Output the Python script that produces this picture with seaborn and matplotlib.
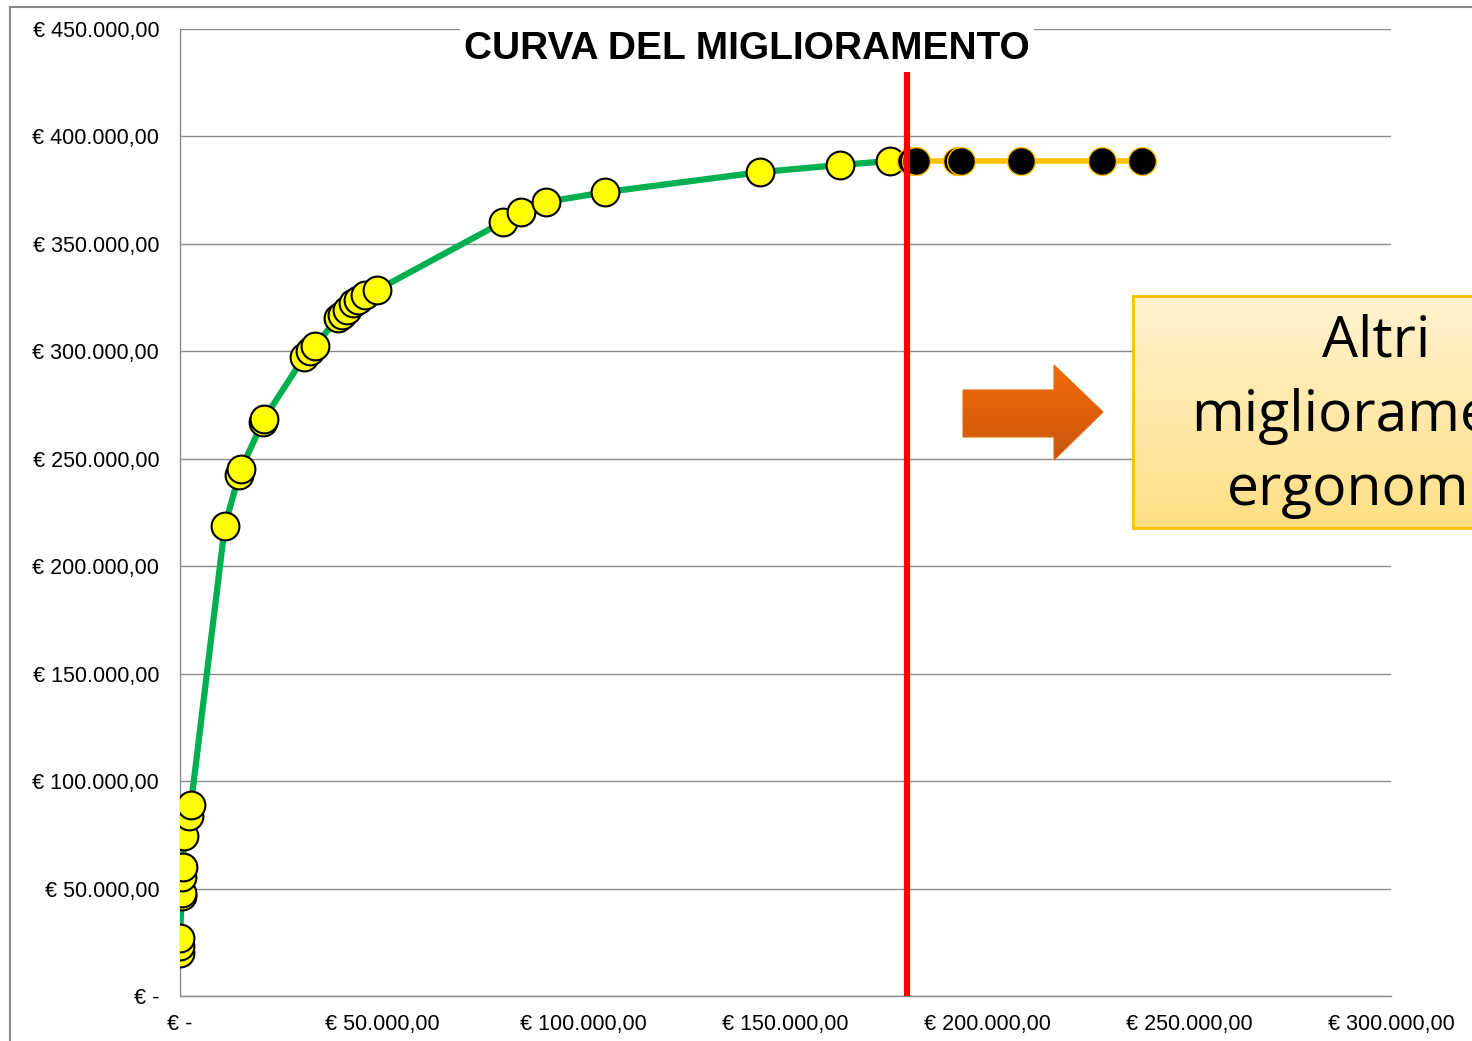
import numpy as np
import matplotlib.pyplot as plt
import matplotlib.patches as mpatches
from matplotlib.colors import LinearSegmentedColormap
from matplotlib.ticker import FuncFormatter
import pandas as pd
import seaborn as sns

# cumulative cost (x) vs cumulative benefit (y), yellow = done, black = remaining
done_x = [0, 0, 0, 400, 500, 600, 700, 1000, 2200, 2700,
          11100, 14600, 15100, 20500, 20800, 30700, 32200, 33400,
          39100, 40100, 41300, 42800, 44100, 45800, 48800,
          80000, 84400, 90600, 105400, 143800, 163400, 176000]
done_y = [20000, 23300, 27000, 46500, 48000, 55400, 60000, 74500, 83800, 88900,
          218700, 242400, 245200, 267100, 268500, 297300, 300100, 302500,
          315500, 316900, 319200, 322500, 323900, 326200, 328500,
          360200, 364800, 369500, 374100, 383400, 386700, 388600]
rest_x = [181200, 182400, 192600, 193600, 208400, 228500, 238400]
rest_y = [388600, 388600, 388600, 388600, 388600, 388600, 388600]
cut_x = 180000

sns.set_style("white")
plt.rcParams["font.family"] = ["Liberation Sans", "DejaVu Sans"]
plt.rcParams["text.color"] = "black"
plt.rcParams["xtick.color"] = "black"
plt.rcParams["ytick.color"] = "black"

fig = plt.figure(figsize=(14.72, 10.41), dpi=100)
ax = fig.add_axes([180/1472, 45/1041, 1211/1472, 967/1041])

done = pd.DataFrame({"x": done_x, "y": done_y})
rest = pd.DataFrame({"x": rest_x, "y": rest_y})

sns.lineplot(data=rest, x="x", y="y", sort=False, estimator=None, color="#ffc000", lw=4, ax=ax, zorder=2)
sns.lineplot(data=done, x="x", y="y", sort=False, estimator=None, color="#00b050", lw=4.5, ax=ax, zorder=3)
sns.scatterplot(data=done, x="x", y="y", s=400, color="#ffff00", edgecolor="black", linewidth=1.5, ax=ax, zorder=4)
sns.scatterplot(data=rest, x="x", y="y", s=400, color="black", edgecolor="#ffc000", linewidth=1, ax=ax, zorder=5)
ax.plot([cut_x, cut_x], [0, 430000], color="#ff0000", lw=4.5, zorder=6, solid_capstyle="butt")

def euro(v, pos):
    if v == 0:
        return "€ -"
    return "€ " + f"{v:,.2f}".replace(",", "X").replace(".", ",").replace("X", ".")

ax.set_xlim(0, 300000)
ax.set_ylim(0, 450000)
ax.set_xticks(np.arange(0, 300001, 50000))
ax.set_yticks(np.arange(0, 450001, 50000))
ax.xaxis.set_major_formatter(FuncFormatter(euro))
ax.yaxis.set_major_formatter(FuncFormatter(euro))
ax.set_xlabel("")
ax.set_ylabel("")
ax.grid(axis="y", color="#8c8c8c", lw=1)
ax.set_axisbelow(True)
for s in ["top", "right"]:
    ax.spines[s].set_visible(False)
for s in ["left", "bottom"]:
    ax.spines[s].set_color("#8c8c8c")
    ax.spines[s].set_linewidth(1)
ax.tick_params(axis="both", which="major", direction="out", length=6, color="#8c8c8c",
               labelsize=15.5, width=1, labelcolor="black")
ax.tick_params(axis="x", pad=7)
ax.tick_params(axis="y", pad=9)

ax.text(0.468, 0.979, "CURVA DEL MIGLIORAMENTO", transform=ax.transAxes, ha="center", va="center",
        fontsize=28, fontweight="bold", color="black", zorder=7,
        bbox=dict(facecolor="white", edgecolor="none", pad=3))

# outer chart frame
fig.patches.append(mpatches.Rectangle((10/1472, -0.1), 1.2, (1041-7)/1041 + 0.1,
                   transform=fig.transFigure, fill=False, edgecolor="#888888", lw=1.5))

# orange block arrow with gradient
arrow_pts = np.array([[963, 390], [1054, 390], [1054, 365], [1103, 412], [1054, 460],
                      [1054, 437], [963, 437]], dtype=float)
arrow_pts[:, 0] /= 1472
arrow_pts[:, 1] = 1 - arrow_pts[:, 1] / 1041
aax = fig.add_axes([963/1472, 1 - 460/1041, 140/1472, 95/1041])
aax.set_axis_off()
grad = np.linspace(0, 1, 100).reshape(-1, 1)
acm = LinearSegmentedColormap.from_list("a", ["#f46a08", "#c9560c"])
im = aax.imshow(grad, cmap=acm, aspect="auto", extent=[0, 1, 0, 1], origin="upper")
poly = mpatches.Polygon(arrow_pts, closed=True, transform=fig.transFigure, facecolor="none",
                        edgecolor="#e26b0a", lw=0.8)
im.set_clip_path(poly)
fig.patches.append(poly)

# text box with gradient (runs past the right edge, as in the original slide)
bax = fig.add_axes([1133/1472, 1 - 528/1041, 500/1472, 232/1041])
bcm = LinearSegmentedColormap.from_list("b", ["#fff2cf", "#ffdf85"])
bax.imshow(grad, cmap=bcm, aspect="auto", extent=[0, 1, 0, 1], origin="upper")
bax.set_xlim(0, 1)
bax.set_ylim(0, 1)
bax.set_xticks([])
bax.set_yticks([])
for s in bax.spines.values():
    s.set_color("#ffc000")
    s.set_linewidth(2)
bax.text(0.487, 0.48, "Altri\nmiglioramenti\nergonomici", ha="center", va="center",
         fontsize=41, family=["Open Sans", "DejaVu Sans"], linespacing=1.4, color="black")

fig.savefig("out.png", dpi=100)
